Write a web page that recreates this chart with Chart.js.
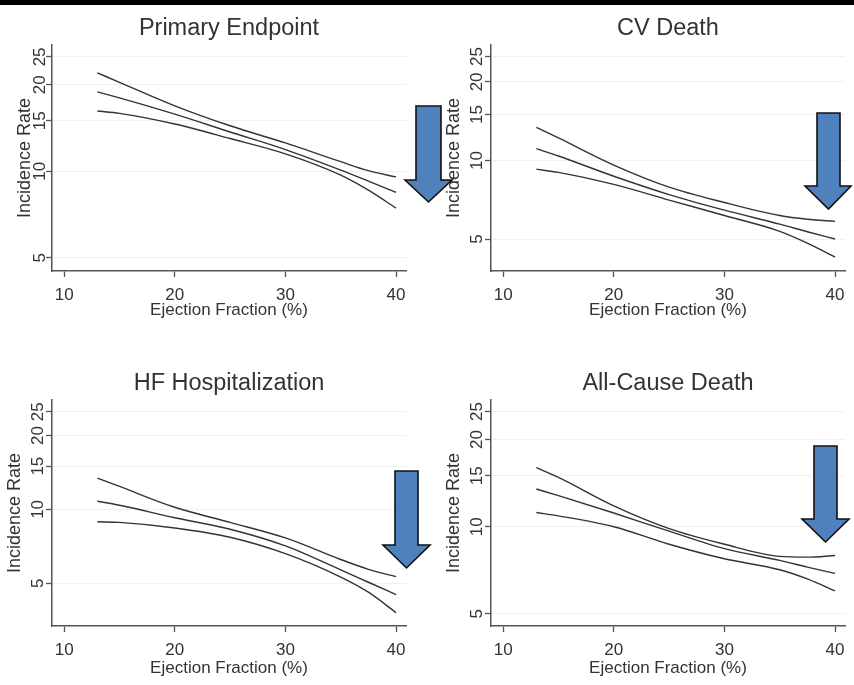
<!DOCTYPE html>
<html>
<head>
<meta charset="utf-8">
<title>Incidence rate by ejection fraction</title>
<script src="https://cdn.jsdelivr.net/npm/chart.js@4.4.1/dist/chart.umd.min.js"></script>
<style>
  html, body { margin: 0; padding: 0; background: #fff; }
  body { position: relative; width: 854px; height: 685px; overflow: hidden; }
  .topbar { position: absolute; left: 0; top: 0; width: 854px; height: 5px; background: #000; }
  canvas { position: absolute; }
  #arrows { position: absolute; left: 0; top: 0; pointer-events: none; }
</style>
</head>
<body>
<div class="topbar"></div>
<canvas id="primary" width="415" height="330" style="left:0;top:0"></canvas>
<canvas id="cvDeath" width="415" height="330" style="left:439px;top:0"></canvas>
<canvas id="hfHosp" width="415" height="330" style="left:0;top:355px"></canvas>
<canvas id="allDeath" width="415" height="330" style="left:439px;top:355px"></canvas>

<!-- the blue arrows are slide annotations laid over the four plots -->
<svg id="arrows" width="854" height="685">
  <g fill="#4f81bd" stroke="#111" stroke-width="1.6" stroke-linejoin="miter">
    <polygon points="416,106 441,106 441,180 452,180 428.5,202 405,180 416,180"/>
    <polygon points="817,113 840,113 840,186 851,186 828.5,209 805,186 817,186"/>
    <polygon points="395,471 418,471 418,545 430,545 406.5,568 383,545 395,545"/>
    <polygon points="814,446 837,446 837,519 849,519 825.5,542 802,519 814,519"/>
  </g>
</svg>

<script>
// ejection fraction (%) where the curves were read
const efValues = [13, 15, 20, 25, 30, 35, 37.5, 40];

const xTicks = [10, 20, 30, 40];
const yTicks = [5, 10, 15, 20, 25];

// incidence rate: upper CI, estimate, lower CI
const primaryUpper = [22.0, 20.4, 16.9, 14.4, 12.55, 10.8, 10.05, 9.56];
const primaryRate  = [18.9, 18.0, 15.8, 13.7, 11.9, 10.1, 9.25, 8.45];
const primaryLower = [16.2, 15.9, 14.6, 13.0, 11.5, 9.7, 8.6, 7.45];

const cvUpper = [13.4, 12.2, 9.6, 7.9, 6.9, 6.15, 5.95, 5.84];
const cvRate  = [11.1, 10.4, 8.7, 7.4, 6.45, 5.7, 5.33, 5.0];
const cvLower = [9.26, 9.0, 8.1, 7.05, 6.15, 5.35, 4.82, 4.26];

const hfUpper = [13.4, 12.4, 10.2, 8.85, 7.65, 6.25, 5.7, 5.32];
const hfRate  = [10.8, 10.4, 9.25, 8.3, 7.1, 5.67, 5.05, 4.5];
const hfLower = [8.9, 8.85, 8.4, 7.7, 6.6, 5.3, 4.6, 3.8];

const acUpper = [16.0, 14.8, 11.8, 9.85, 8.7, 7.9, 7.85, 7.95];
const acRate  = [13.5, 12.8, 11.15, 9.65, 8.4, 7.65, 7.25, 6.9];
const acLower = [11.2, 10.9, 10.0, 8.7, 7.75, 7.1, 6.6, 6.0];

Chart.defaults.font.family = '"Liberation Sans", Arial, sans-serif';
Chart.defaults.color = '#333';

const axisColor = '#555';
const lineColor = '#333';

// panel title and rotated y tick labels, like the Stata graph
const panelText = {
  id: 'panelText',
  afterDraw(chart, args, opts) {
    const { ctx, chartArea, scales } = chart;
    ctx.save();
    ctx.fillStyle = '#333';
    ctx.textAlign = 'center';
    ctx.textBaseline = 'middle';
    ctx.font = '23.5px "Liberation Sans", Arial, sans-serif';
    ctx.fillText(opts.title, (chartArea.left + chartArea.right) / 2, chartArea.top - 16);
    ctx.font = '17px "Liberation Sans", Arial, sans-serif';
    scales.y.ticks.forEach(t => {
      ctx.save();
      ctx.translate(chartArea.left - opts.tickGap, scales.y.getPixelForValue(t.value));
      ctx.rotate(-Math.PI / 2);
      ctx.fillText(String(t.value), 0, 0);
      ctx.restore();
    });
    ctx.restore();
  }
};

function curve(values) {
  return {
    data: efValues.map((x, i) => ({ x, y: values[i] })),
    borderColor: lineColor,
    borderWidth: 1.4,
    pointRadius: 0,
    fill: false,
    cubicInterpolationMode: 'monotone'
  };
}

function makePanel(id, title, upper, rate, lower, yMin, yMax, look) {
  return new Chart(document.getElementById(id), {
    type: 'line',
    data: { datasets: [curve(upper), curve(rate), curve(lower)] },
    plugins: [panelText],
    options: {
      responsive: false,
      animation: false,
      layout: { padding: { top: 45, right: 9, bottom: 0, left: 0 } },
      plugins: {
        legend: { display: false },
        tooltip: { enabled: false },
        panelText: { title, tickGap: look.tickGap }
      },
      scales: {
        x: {
          type: 'linear',
          min: 8.9,
          max: 40.9,
          afterBuildTicks: s => { s.ticks = xTicks.map(v => ({ value: v })); },
          afterFit: s => { s.height = 59; },
          ticks: { font: { size: 17 }, padding: 8, maxRotation: 0, autoSkip: false },
          grid: { drawOnChartArea: false, tickLength: 6, tickColor: axisColor, tickWidth: 1.3 },
          border: { color: axisColor, width: 1.5 },
          title: { display: true, text: 'Ejection Fraction (%)', font: { size: 17 }, padding: { top: 0, bottom: look.xTitlePad } }
        },
        y: {
          type: 'logarithmic',
          min: yMin,
          max: yMax,
          afterBuildTicks: s => { s.ticks = yTicks.map(v => ({ value: v })); },
          afterFit: s => { s.width = 52; },
          ticks: { display: false },
          grid: { color: '#f0f0f0', lineWidth: 1, tickLength: 6, tickColor: axisColor, tickWidth: 1.3 },
          border: { color: axisColor, width: 1.5 },
          title: { display: true, text: 'Incidence Rate', font: { size: 18 }, padding: { top: look.yTitlePad, bottom: 0 } }
        }
      }
    }
  });
}

makePanel('primary', 'Primary Endpoint', primaryUpper, primaryRate, primaryLower, 4.5, 27.5,
  { tickGap: 12, yTitlePad: 14, xTitlePad: 9 });
makePanel('cvDeath', 'CV Death', cvUpper, cvRate, cvLower, 3.77, 27.7,
  { tickGap: 14, yTitlePad: 4, xTitlePad: 9 });
makePanel('hfHosp', 'HF Hospitalization', hfUpper, hfRate, hfLower, 3.35, 27.9,
  { tickGap: 14, yTitlePad: 4, xTitlePad: 6 });
makePanel('allDeath', 'All-Cause Death', acUpper, acRate, acLower, 4.54, 27.4,
  { tickGap: 14, yTitlePad: 4, xTitlePad: 6 });
</script>
</body>
</html>
